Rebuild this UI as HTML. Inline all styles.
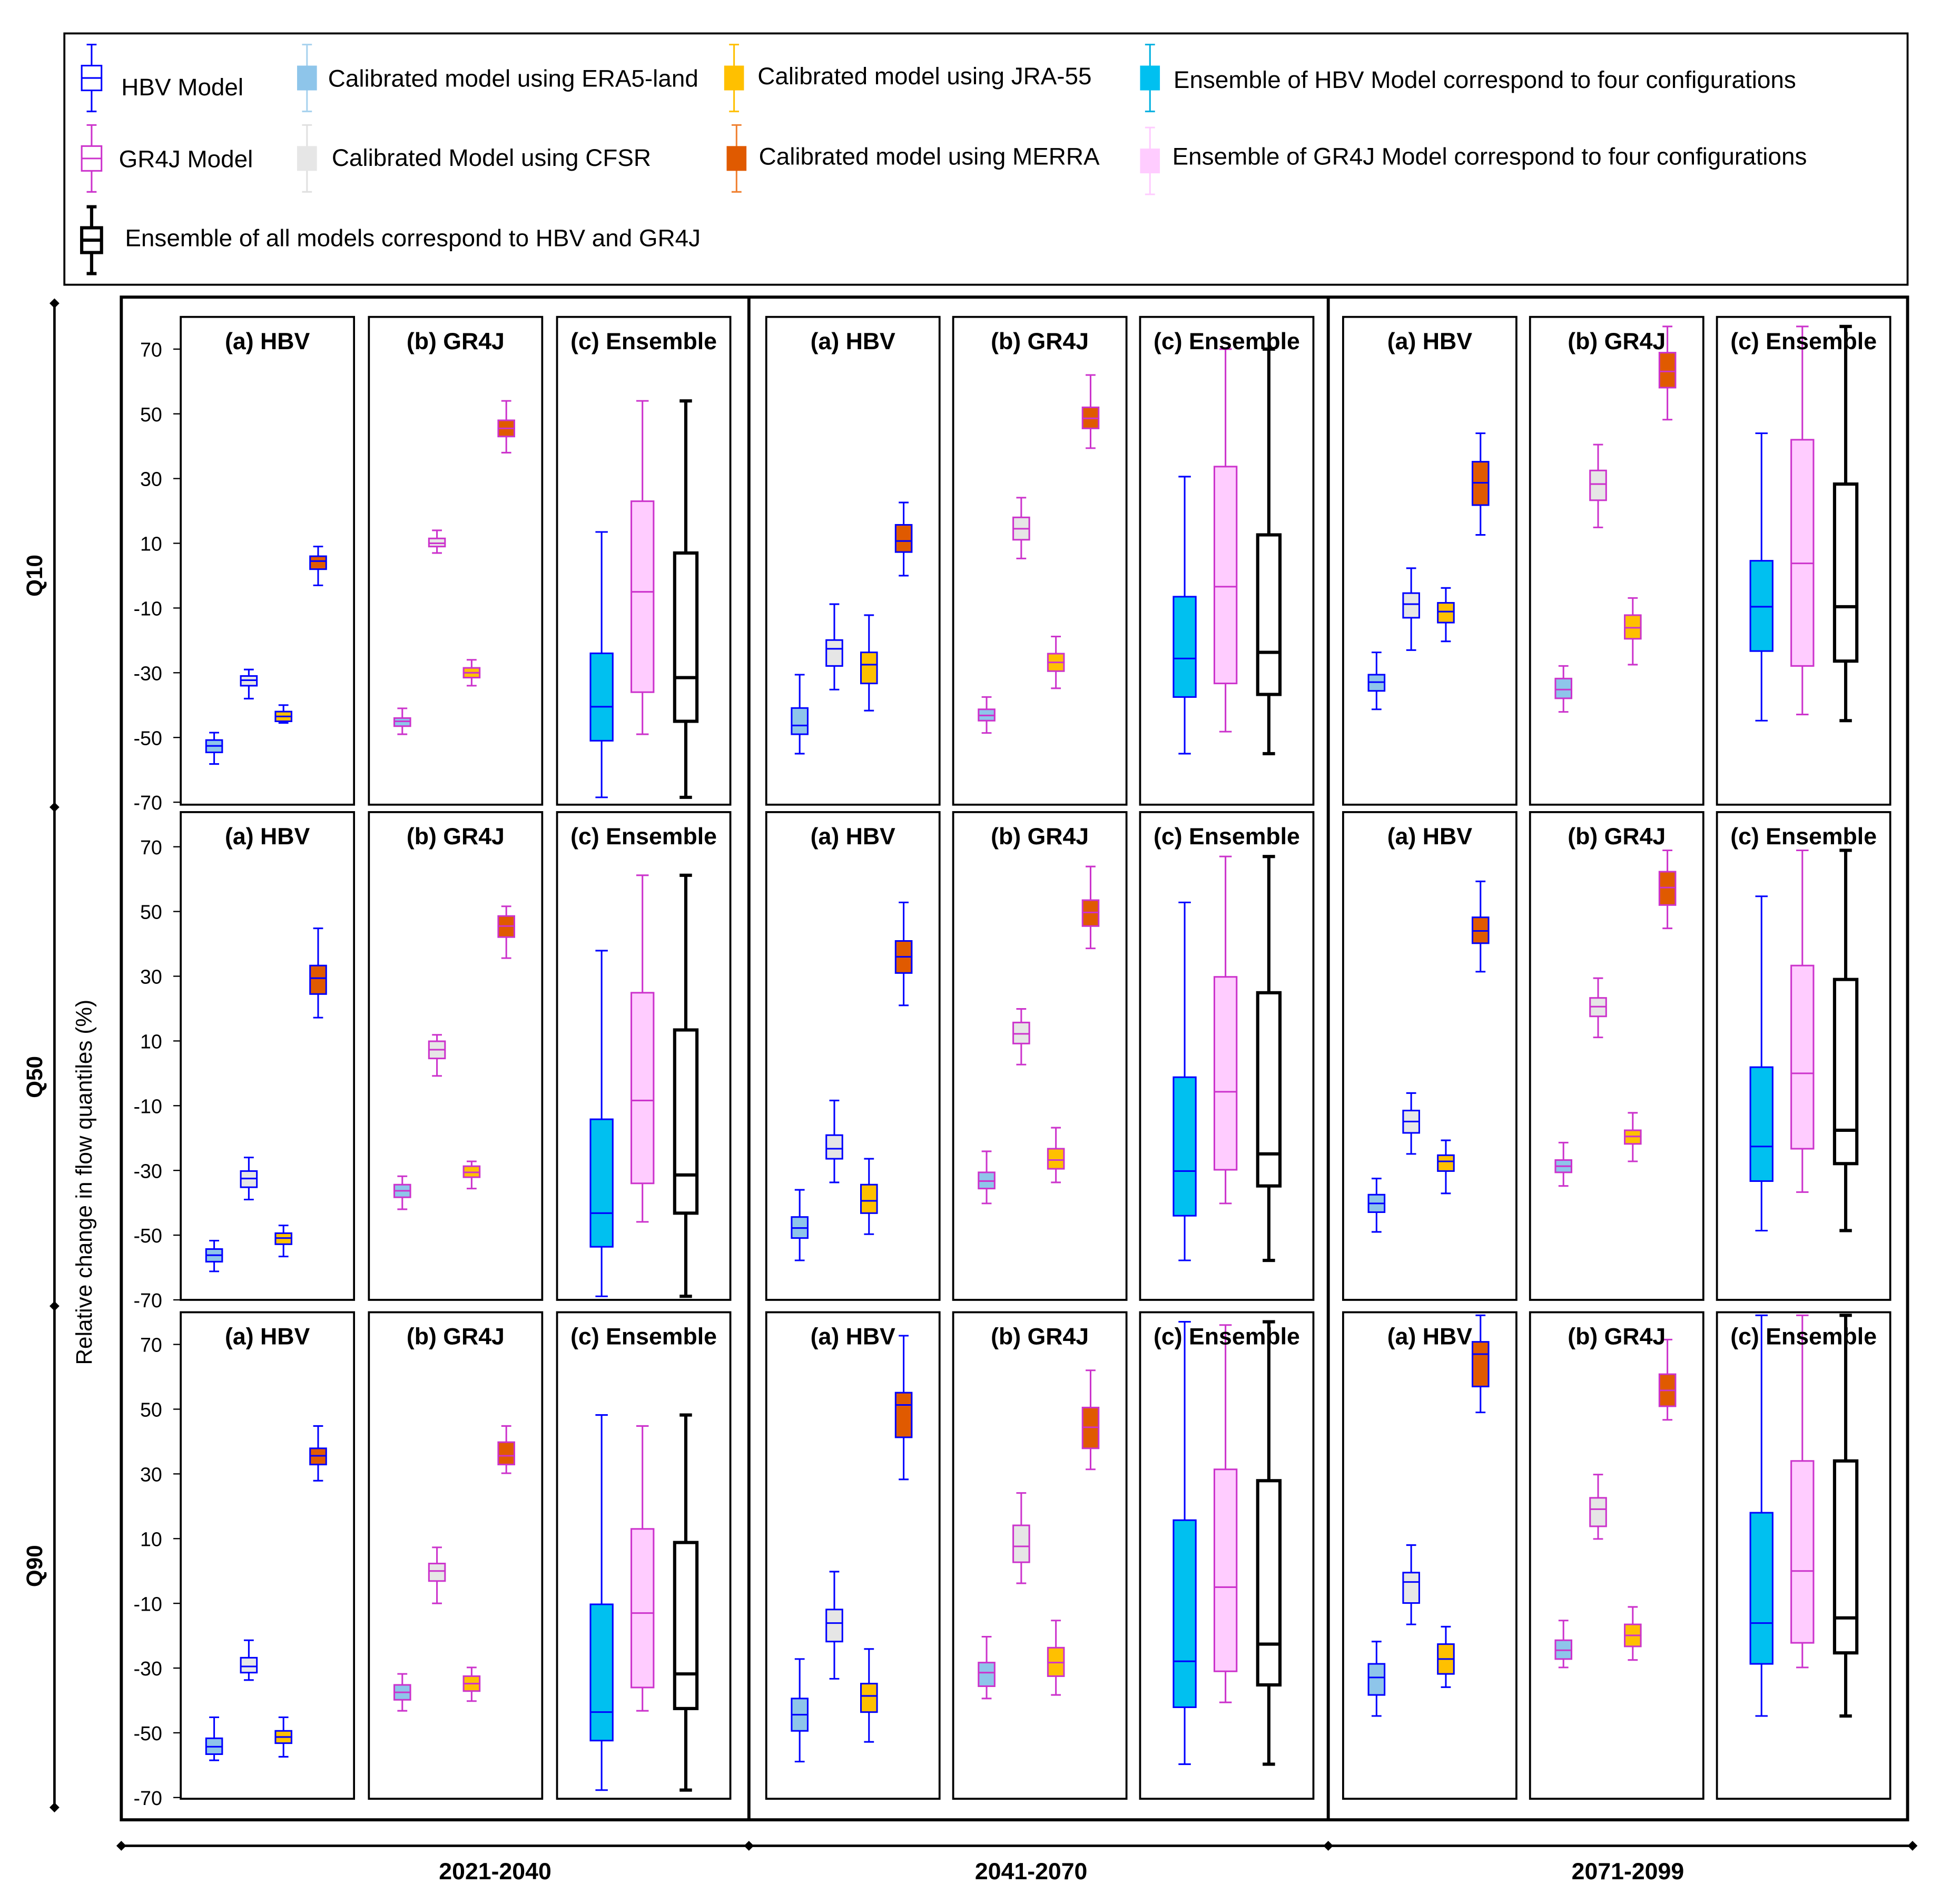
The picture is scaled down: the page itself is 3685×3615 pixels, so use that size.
<!DOCTYPE html>
<html><head><meta charset="utf-8"><style>
html,body{margin:0;padding:0;background:#fff;}
svg{display:block;font-family:"Liberation Sans",sans-serif;}
</style></head><body>
<svg id="chart" xmlns="http://www.w3.org/2000/svg" width="3685" height="3615" viewBox="0 0 1568 1538" preserveAspectRatio="none">
<rect x="0" y="0" width="1568" height="1538" fill="#fff"/>
<g id="legend"></g>
<g id="plots"></g>
<g id="axes"></g>
</svg>
<script>
// ---- data: [upper whisker, q3, median, q1, lower whisker] ; order of sources: ERA5, CFSR, JRA-55, MERRA
const quantiles = ["Q10","Q50","Q90"];
const periods = ["2021-2040","2041-2070","2071-2099"];
const sources = ["ERA5-land","CFSR","JRA-55","MERRA"];
const yTicks = [70,50,30,10,-10,-30,-50,-70];
const hbvQ10 = [
 [[-48.5,-50.8,-52.6,-54.6,-58.2],[-29,-31,-32.3,-34,-38],[-40,-42,-43.5,-45,-45.5],[9,6,4.5,2,-3]],
 [[-30.6,-40.9,-46.3,-49,-55],[-8.8,-19.9,-22.6,-27.9,-35.2],[-12.2,-23.7,-27.5,-33.3,-41.7],[22.6,15.7,10.7,7.3,0]],
 [[-23.7,-30.6,-32.9,-35.6,-41.3],[2.3,-5.4,-8.8,-13,-23],[-3.8,-8.4,-11.1,-14.5,-20.3],[44,35.2,28.7,21.8,12.6]]];
const gr4jQ10 = [
 [[-41,-44,-45,-46.5,-49],[14,11.5,10,9,7],[-26,-28.5,-30,-31.5,-34],[54,48,45.5,43,38]],
 [[-37.5,-41.3,-43.2,-44.8,-48.6],[24.1,18,14.5,11.1,5.3],[-18.8,-24.1,-26.8,-29.5,-34.8],[62,52,48.6,45.5,39.4]],
 [[-27.9,-31.8,-35.2,-37.9,-42.1],[40.5,32.5,28.3,23.3,14.9],[-6.9,-12.2,-16.1,-19.5,-27.5],[77,68.9,63.1,58.1,48.2]]];
const ensQ10 = [
 [[13.5,-24,-40.5,-51,-68.5],[54,23,-5,-36,-49],[54,7,-31.5,-45,-68.5]],
 [[30.6,-6.5,-25.6,-37.5,-55],[70,33.7,-3.4,-33.3,-48.2],[70,12.6,-23.7,-36.7,-55]],
 [[44,4.6,-9.6,-23.3,-44.8],[77,42,3.8,-27.9,-42.9],[77,28.3,-9.6,-26.4,-44.8]]];
const hbvQ50 = [
 [[-51.7,-54.3,-56.2,-58.2,-61.2],[-26,-30.2,-32.5,-35.2,-39],[-47,-49.4,-50.9,-52.8,-56.6],[44.8,33.3,29.4,24.5,17.2]],
 [[-36,-44.4,-47.8,-50.9,-57.8],[-8.4,-19.1,-23.3,-26.4,-33.7],[-26.4,-34.4,-39.4,-43.2,-49.7],[52.8,40.9,36,31,21]],
 [[-32.5,-37.5,-40.2,-42.9,-49],[-6.1,-11.5,-14.9,-18.4,-24.9],[-20.7,-25.3,-27.2,-30.2,-37.1],[59.3,48.2,44,40.2,31.4]]];
const gr4jQ50 = [
 [[-31.8,-34.4,-36.3,-38.3,-42],[11.9,9.9,7.3,4.6,-0.8],[-27.2,-28.7,-30.6,-32.1,-35.6],[51.6,48.6,45.5,42.1,35.6]],
 [[-24.1,-30.6,-33.3,-35.6,-40.2],[19.9,15.7,12.2,9.2,2.7],[-16.8,-23.3,-26.8,-29.5,-33.7],[63.9,53.5,49.7,45.5,38.6]],
 [[-21.4,-26.8,-28.7,-30.6,-34.8],[29.4,23.3,20.6,17.6,11.1],[-12.2,-17.6,-19.5,-21.8,-27.2],[68.9,62.3,57.4,52,44.8]]];
const ensQ50 = [
 [[37.9,-14.2,-43.2,-53.6,-68.9],[61.2,24.9,-8.4,-34,-45.9],[61.2,13.4,-31.4,-43.2,-68.9]],
 [[52.8,-1.2,-30.2,-44,-57.8],[67,29.8,-5.7,-29.8,-40.2],[67,24.9,-24.9,-34.8,-57.8]],
 [[54.7,1.9,-22.6,-33.3,-48.6],[68.9,33.3,0,-23.3,-36.7],[68.9,29,-17.6,-27.9,-48.6]]];
const hbvQ90 = [
 [[-45.2,-51.7,-54.3,-56.6,-58.5],[-21.4,-26.8,-29.5,-31.4,-33.7],[-45.2,-49.4,-51.3,-53.2,-57.4],[44.8,37.9,35.6,32.9,27.9]],
 [[-27.2,-39.4,-44.4,-49.4,-58.9],[-0.2,-11.9,-16.1,-21.8,-33.3],[-24.1,-34.8,-38.6,-43.6,-52.8],[72.7,55.1,51.3,41.3,28.3]],
 [[-21.8,-28.7,-32.9,-38.3,-44.8],[8,-0.5,-3.4,-9.9,-16.5],[-17.2,-22.6,-27.2,-31.8,-35.9],[79,70.8,67,57,49]]];
const gr4jQ90 = [
 [[-31.8,-35.2,-37.5,-39.8,-43.2],[7.3,2.3,0,-3.1,-10],[-29.8,-32.5,-34.8,-37.1,-40.2],[44.8,39.8,35.6,32.9,30.2]],
 [[-20.3,-28.3,-31.4,-35.6,-39.4],[24.1,14.1,7.6,2.7,-3.8],[-15.3,-23.7,-28.3,-32.5,-38.3],[62,50.5,44.4,37.9,31.4]],
 [[-15.3,-21.4,-24.5,-27.2,-29.8],[29.8,22.6,19.1,13.8,9.9],[-11.1,-16.5,-19.9,-23.3,-27.5],[71.5,60.8,55.8,50.9,46.7]]];
const ensQ90 = [
 [[48.2,-10.3,-43.6,-52.4,-67.7],[44.8,13,-13,-36,-43.2],[48.2,8.8,-31.8,-42.5,-67.7]],
 [[77,15.7,-27.9,-42.1,-59.7],[76,31.4,-5,-31,-40.6],[77,27.9,-22.6,-35.2,-59.7]],
 [[79,18,-16.1,-28.7,-44.8],[79,34,0,-22.2,-29.8],[79,34,-14.5,-25.3,-44.8]]];

const hbvRows=[hbvQ10,hbvQ50,hbvQ90], gr4jRows=[gr4jQ10,gr4jQ50,gr4jQ90], ensRows=[ensQ10,ensQ50,ensQ90];
const NS="http://www.w3.org/2000/svg";
const srcFill=["#8ec5ea","#e6e6e6","#ffc000","#e05a00"];
const BLUE="#0000ff", MAG="#cc33cc";
const rowTop=[256,656,1060], rowBot=[650,1050,1453], row70=[282,684,1086];
const pxPerUnit=366/140;
const panelLeft=[[146,298,450],[619,770,921],[1085,1236,1387]];
const PW=140;
function yScale(r,v){return row70[r]+(70-v)*pxPerUnit;}
function el(tag,attrs,parent){const e=document.createElementNS(NS,tag);for(const k in attrs)e.setAttribute(k,attrs[k]);parent.appendChild(e);return e;}

function drawBox(g,r,cx,w,d,fill,stroke,sw,cap){
  const b=el('g',{},g);
  
  
  const y=v=>yScale(r,v);
  el('line',{x1:cx,x2:cx,y1:y(d[0]),y2:y(d[1]),stroke:stroke,'stroke-width':sw},b);
  el('line',{x1:cx,x2:cx,y1:y(d[3]),y2:y(d[4]),stroke:stroke,'stroke-width':sw},b);
  el('line',{x1:cx-cap/2,x2:cx+cap/2,y1:y(d[0]),y2:y(d[0]),stroke:stroke,'stroke-width':sw},b);
  el('line',{x1:cx-cap/2,x2:cx+cap/2,y1:y(d[4]),y2:y(d[4]),stroke:stroke,'stroke-width':sw},b);
  el('rect',{x:cx-w/2,y:y(d[1]),width:w,height:y(d[3])-y(d[1]),fill:fill,stroke:stroke,'stroke-width':sw},b);
  el('line',{x1:cx-w/2,x2:cx+w/2,y1:y(d[2]),y2:y(d[2]),stroke:stroke,'stroke-width':sw},b);
}

const plots=document.getElementById('plots');
const defs=el('defs',{},plots);
const titles=["(a) HBV","(b) GR4J","(c) Ensemble"];
const titleNames=["hbv","gr4j","ensemble"];
for(let r=0;r<3;r++){
  for(let p=0;p<3;p++){
    for(let k=0;k<3;k++){
      const L=panelLeft[p][k], T=rowTop[r], B=rowBot[r];
      const id='clip'+r+p+k;
      const cp=el('clipPath',{id:id},defs);
      el('rect',{x:L,y:T,width:PW,height:B-T},cp);
      const g=el('g',{},plots);
      
      
      el('rect',{x:L,y:T,width:PW,height:B-T,fill:'#fff',stroke:'#000','stroke-width':1.6},g);
      const inner=el('g',{'clip-path':'url(#'+id+')'},g);
      if(k<2){
        const data=(k===0?hbvRows:gr4jRows)[r][p];
        const stroke=k===0?BLUE:MAG;
        data.forEach((d,i)=>drawBox(inner,r,L+27+28*i,13,d,srcFill[i],stroke,1.3,8));
      } else {
        const data=ensRows[r][p];
        drawBox(inner,r,L+36,18,data[0],'#00c0f0',BLUE,1.3,10);
        drawBox(inner,r,L+69,18,data[1],'#ffccff',MAG,1.3,10);
        drawBox(inner,r,L+104,18,data[2],'#fff','#000',2.6,10);
      }
      const t=el('text',{x:L+PW/2,y:T+26,'text-anchor':'middle','font-size':19,'font-weight':'bold',fill:'#000'},g);
      t.textContent=titles[k];
      
      
    }
  }
  yTicks.forEach(v=>{
    const y=yScale(r,v);
    el('line',{x1:140,x2:146,y1:y,y2:y,stroke:'#000','stroke-width':1},plots);
    const t=el('text',{x:131,y:y+6,'text-anchor':'end','font-size':16,fill:'#000'},plots);
    t.textContent=String(v);
    
    
  });
}
el('rect',{x:98,y:240,width:1443,height:1230,fill:'none',stroke:'#000','stroke-width':2.5},plots);
el('line',{x1:605,x2:605,y1:240,y2:1470,stroke:'#000','stroke-width':2.5},plots);
el('line',{x1:1073,x2:1073,y1:240,y2:1470,stroke:'#000','stroke-width':2.5},plots);

const axes=document.getElementById('axes');
function diamond(x,y){el('path',{d:`M${x-4},${y} L${x},${y-4} L${x+4},${y} L${x},${y+4}Z`,fill:'#000'},axes);}
el('line',{x1:44,x2:44,y1:245,y2:1460,stroke:'#000','stroke-width':2},axes);
[245,652,1055,1460].forEach(y=>diamond(44,y));
el('line',{x1:98,x2:1545,y1:1491,y2:1491,stroke:'#000','stroke-width':2},axes);
[98,605,1073,1545].forEach(x=>diamond(x,1491));
const qy=[465,870,1265];
quantiles.forEach((q,i)=>{
  const t=el('text',{x:0,y:0,transform:`translate(34,${qy[i]}) rotate(-90)`,'text-anchor':'middle','font-size':18,'font-weight':'bold'},axes);
  t.textContent=q;
  
  
});
const yt=el('text',{x:0,y:0,transform:'translate(74,955) rotate(-90)','text-anchor':'middle','font-size':18},axes);
yt.textContent='Relative change in flow quantiles (%)';


const px=[400,833,1315];
periods.forEach((p,i)=>{
  const t=el('text',{x:px[i],y:1518,'text-anchor':'middle','font-size':19,'font-weight':'bold'},axes);
  t.textContent=p;
  
  
});

const lg=document.getElementById('legend');
el('rect',{x:52,y:27,width:1489,height:203,fill:'#fff',stroke:'#000','stroke-width':1.6},lg);
function legIcon(x,y,fill,stroke,whisk,sw){
  el('line',{x1:x,x2:x,y1:y-27,y2:y+27,stroke:whisk,'stroke-width':sw},lg);
  el('line',{x1:x-4,x2:x+4,y1:y-27,y2:y-27,stroke:whisk,'stroke-width':sw},lg);
  el('line',{x1:x-4,x2:x+4,y1:y+27,y2:y+27,stroke:whisk,'stroke-width':sw},lg);
  el('rect',{x:x-8,y:y-10,width:16,height:20,fill:fill,stroke:stroke,'stroke-width':sw},lg);
  if(stroke!=='none') el('line',{x1:x-8,x2:x+8,y1:y,y2:y,stroke:stroke,'stroke-width':sw},lg);
}
function legText(x,y,s,name){
  const t=el('text',{x:x,y:y+7,'font-size':19.5},lg);
  t.textContent=s;
  
  
}
legIcon(74,63,'#fff',BLUE,BLUE,1.3); legText(98,70,'HBV Model','legend-hbv');
legIcon(248,63,srcFill[0],'none','#a8d2ee',1.3); legText(265,63,'Calibrated model using ERA5-land','legend-era5');
legIcon(593,63,srcFill[2],'none','#ffc000',1.3); legText(612,61,'Calibrated model using JRA-55','legend-jra55');
legIcon(929,63,'#00c0f0','none','#00b0e0',1.3); legText(948,64,'Ensemble of HBV Model correspond to four configurations','legend-ens-hbv');
legIcon(74,128,'#fff',MAG,MAG,1.3); legText(96,128,'GR4J Model','legend-gr4j');
legIcon(248,128,srcFill[1],'none','#e0e0e0',1.3); legText(268,127,'Calibrated Model using CFSR','legend-cfsr');
legIcon(595,128,srcFill[3],'none','#f08030',1.3); legText(613,126,'Calibrated model using MERRA','legend-merra');
legIcon(929,130,'#ffccff','none','#ffccff',1.3); legText(947,126,'Ensemble of GR4J Model correspond to four configurations','legend-ens-gr4j');
legIcon(74,194,'#fff','#000','#000',2.6); legText(101,192,'Ensemble of all models correspond to HBV and GR4J','legend-ens-all');
</script>
</body></html>
